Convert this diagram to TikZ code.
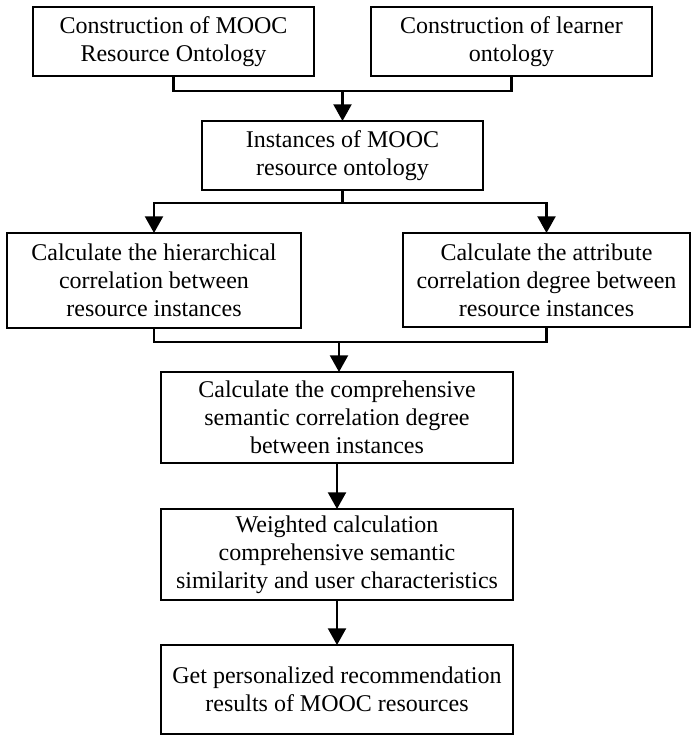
\documentclass[tikz,border=0pt]{standalone}
\usepackage{fontspec}
\setmainfont{Liberation Serif}
\usetikzlibrary{arrows.meta}
\begin{document}
\begin{tikzpicture}[x=0.75pt,y=-0.75pt,
  stepbox/.style={draw, line width=1.6pt, inner sep=0pt, outer sep=0pt, align=center,
    font=\fontsize{18}{21}\selectfont},
  link/.style={line width=1.6pt},
  arr/.style={line width=1.6pt, -{Triangle[width=13.5pt,length=12.5pt]}}]
\useasboundingbox (0,0) rectangle (692,737);

% process boxes
\node[stepbox, minimum width=210.75pt, minimum height=51.75pt] (b1) at (173.5,41.5)
  {Construction of MOOC\\Resource Ontology};
\node[stepbox, minimum width=210.75pt, minimum height=51.75pt] (b2) at (511.5,41.5)
  {Construction of learner\\ontology};
\node[stepbox, minimum width=210.75pt, minimum height=51.75pt] (b3) at (342.5,155.5)
  {Instances of MOOC\\resource ontology};
\node[stepbox, minimum width=220.5pt, minimum height=71.25pt] (b4) at (154,280.5)
  {Calculate the hierarchical\\correlation between\\resource instances};
\node[stepbox, minimum width=215.25pt, minimum height=70.5pt] (b5) at (546.5,280)
  {Calculate the attribute\\correlation degree between\\resource instances};
\node[stepbox, minimum width=264pt, minimum height=68.25pt] (b6) at (337,417.5)
  {Calculate the comprehensive\\semantic correlation degree\\between instances};
\node[stepbox, minimum width=264pt, minimum height=68.25pt] (b7) at (337,554.5)
  {Weighted calculation\\comprehensive semantic\\similarity and user characteristics};
\node[stepbox, minimum width=264pt, minimum height=66.75pt] (b8) at (337,689.5)
  {Get personalized recommendation\\results of MOOC resources};

% junction points of the connectors
\coordinate (j1) at (342.5,91);
\coordinate (j2) at (342.5,203);
\coordinate (j3) at (339,342);

% merge of the two ontologies
\draw[link] (b1.south) |- (j1) -| (b2.south);
\draw[arr] (j1) -- (b3.north);

% split into the two correlation calculations
\draw[link] (b3.south) -- (j2);
\draw[arr] (j2) -| (b4.north);
\draw[arr] (j2) -| (b5.north);

% merge of the two correlations
\draw[link] (b4.south) |- (j3) -| (b5.south);
\draw[arr] (j3) -- (b6.north -| j3);

% final chain
\draw[arr] (b6.south) -- (b7.north);
\draw[arr] (b7.south) -- (b8.north);
\end{tikzpicture}
\end{document}
